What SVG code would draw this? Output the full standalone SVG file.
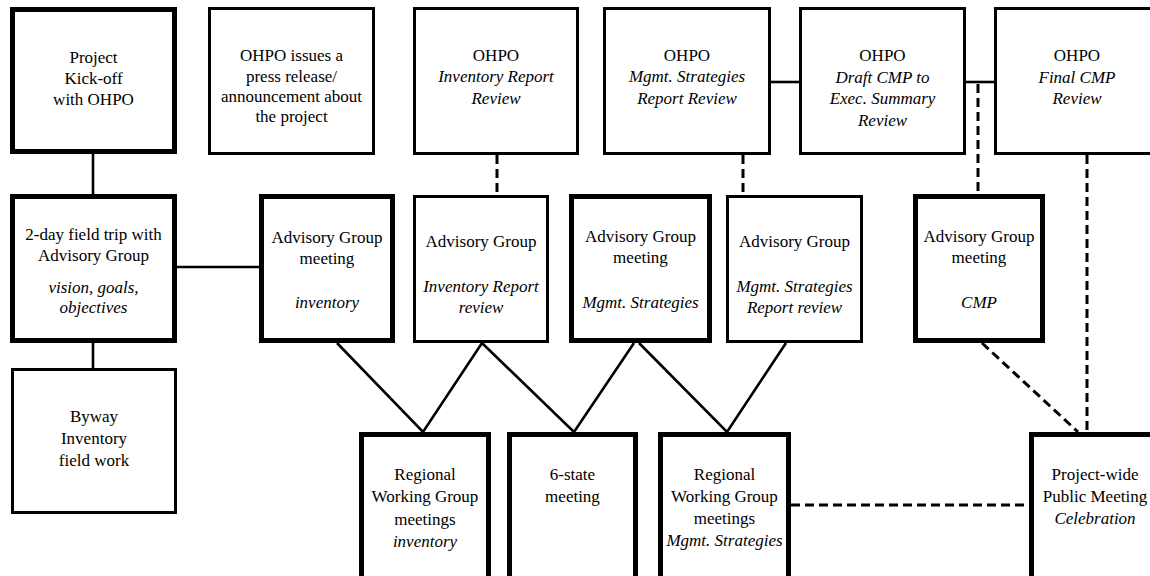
<svg xmlns="http://www.w3.org/2000/svg" width="1150" height="576" viewBox="0 0 1150 576">
<style>
.thick{fill:#fff;stroke:#000;stroke-width:5}
.thin{fill:#fff;stroke:#000;stroke-width:3}
.ln{stroke:#000;stroke-width:2.6;fill:none}
.dash{stroke:#000;stroke-width:3;fill:none;stroke-dasharray:9 5}
text{font-family:"Liberation Serif","Times New Roman",serif;font-size:17px;fill:#000;text-anchor:middle}
.it{font-style:italic}
</style>
<rect width="1150" height="576" fill="#fff"/>
<g id="connectors">
<line class="ln" x1="93" y1="154" x2="93" y2="194"/>
<line class="ln" x1="93" y1="343" x2="93" y2="368"/>
<line class="ln" x1="177" y1="267" x2="259" y2="267"/>
<line class="ln" x1="771" y1="82" x2="799" y2="82"/>
<line class="ln" x1="966" y1="82" x2="994" y2="82"/>
<line class="dash" x1="978" y1="84" x2="978" y2="194"/>
<line class="dash" x1="497" y1="155" x2="497" y2="195"/>
<line class="dash" x1="743" y1="155" x2="743" y2="195"/>
<line class="dash" x1="1087" y1="155" x2="1087" y2="432"/>
<line class="dash" x1="982" y1="343" x2="1078" y2="432"/>
<line class="dash" x1="791" y1="505" x2="1031" y2="505"/>
<polyline class="ln" points="337,343 423,432 482,343 574,432 634,343"/>
<polyline class="ln" points="639,343 727,432 786,343"/>
</g>
<g id="kickoff"><rect class="thick" x="12.5" y="9.5" width="162" height="142"/>
<text x="93.5" y="63">Project</text><text x="93.5" y="84">Kick-off</text><text x="93.5" y="105">with OHPO</text></g>
<g id="press"><rect class="thin" x="209.5" y="8.5" width="164" height="145"/>
<text x="291.5" y="61">OHPO issues a</text><text x="291.5" y="82">press release/</text><text x="291.5" y="102">announcement about</text><text x="291.5" y="122">the project</text></g>
<g id="ohpo-inv"><rect class="thin" x="414.5" y="8.5" width="163" height="145"/>
<text x="496" y="61">OHPO</text><text class="it" x="496" y="82">Inventory Report</text><text class="it" x="496" y="104">Review</text></g>
<g id="ohpo-mgmt"><rect class="thin" x="604.5" y="8.5" width="165" height="145"/>
<text x="687" y="61">OHPO</text><text class="it" x="687" y="82">Mgmt. Strategies</text><text class="it" x="687" y="104">Report Review</text></g>
<g id="ohpo-draft"><rect class="thin" x="800.5" y="8.5" width="164" height="145"/>
<text x="882.5" y="61">OHPO</text><text class="it" x="882.5" y="83">Draft CMP to</text><text class="it" x="882.5" y="104">Exec. Summary</text><text class="it" x="882.5" y="126">Review</text></g>
<g id="ohpo-final"><rect class="thin" x="995.5" y="8.5" width="200" height="145"/>
<text x="1077" y="61">OHPO</text><text class="it" x="1077" y="83">Final CMP</text><text class="it" x="1077" y="104">Review</text></g>
<g id="fieldtrip"><rect class="thick" x="12.5" y="196.5" width="162" height="144"/>
<text x="93.5" y="240">2-day field trip with</text><text x="93.5" y="261">Advisory Group</text><text class="it" x="93.5" y="293">vision, goals,</text><text class="it" x="93.5" y="313">objectives</text></g>
<g id="byway"><rect class="thin" x="12.5" y="369.5" width="163" height="143"/>
<text x="94" y="422">Byway</text><text x="94" y="444">Inventory</text><text x="94" y="466">field work</text></g>
<g id="ag-inventory"><rect class="thick" x="261.5" y="196.5" width="131" height="144"/>
<text x="327" y="243">Advisory Group</text><text x="327" y="264">meeting</text><text class="it" x="327" y="308">inventory</text></g>
<g id="ag-inv-review"><rect class="thin" x="414.5" y="196.5" width="133" height="145"/>
<text x="481" y="247">Advisory Group</text><text class="it" x="481" y="292">Inventory Report</text><text class="it" x="481" y="313">review</text></g>
<g id="ag-mgmt"><rect class="thick" x="571.5" y="196.5" width="138" height="144"/>
<text x="640.5" y="242">Advisory Group</text><text x="640.5" y="263">meeting</text><text class="it" x="640.5" y="308">Mgmt. Strategies</text></g>
<g id="ag-mgmt-review"><rect class="thin" x="727.5" y="196.5" width="134" height="145"/>
<text x="794.5" y="247">Advisory Group</text><text class="it" x="794.5" y="292">Mgmt. Strategies</text><text class="it" x="794.5" y="313">Report review</text></g>
<g id="ag-cmp"><rect class="thick" x="915.5" y="196.5" width="127" height="144"/>
<text x="979" y="242">Advisory Group</text><text x="979" y="263">meeting</text><text class="it" x="979" y="308">CMP</text></g>
<g id="rwg-inventory"><rect class="thick" x="361.5" y="434.5" width="127" height="200"/>
<text x="425" y="480">Regional</text><text x="425" y="502">Working Group</text><text x="425" y="525">meetings</text><text class="it" x="425" y="547">inventory</text></g>
<g id="six-state"><rect class="thick" x="509.5" y="434.5" width="126" height="200"/>
<text x="572.5" y="480">6-state</text><text x="572.5" y="502">meeting</text></g>
<g id="rwg-mgmt"><rect class="thick" x="660.5" y="434.5" width="128" height="200"/>
<text x="724.5" y="480">Regional</text><text x="724.5" y="502">Working Group</text><text x="724.5" y="524">meetings</text><text class="it" x="724.5" y="546">Mgmt. Strategies</text></g>
<g id="public"><rect class="thick" x="1031.5" y="434.5" width="200" height="200"/>
<text x="1095" y="480">Project-wide</text><text x="1095" y="502">Public Meeting</text><text class="it" x="1095" y="524">Celebration</text></g>
</svg>
